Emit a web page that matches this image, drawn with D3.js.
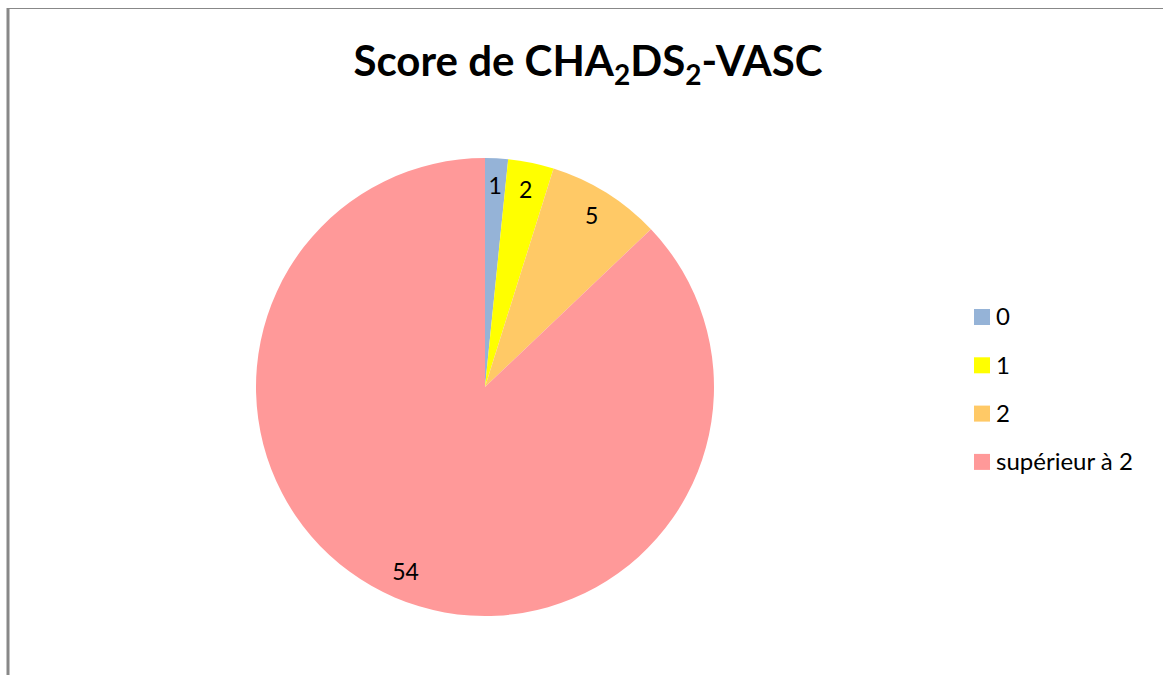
<!DOCTYPE html>
<html>
<head>
<meta charset="utf-8">
<script src="https://cdn.jsdelivr.net/npm/d3@7"></script>
<style>
  body { margin: 0; background: #fff; }
  text { font-family: Lato, "Open Sans", sans-serif; }
</style>
</head>
<body>
<div id="chart-area"></div>
<script>
// Data
var categories = ['0', '1', '2', 'supérieur à 2'];
var values = [1, 2, 5, 54];
var colors = ['#95B3D7', '#FFFF00', '#FFC966', '#FF9999'];

var width = 1163, height = 675;

var svg = d3.select('#chart-area')
    .append('svg')
        .attr('width', width)
        .attr('height', height);

// frame lines (top and left)
svg.append('line')
    .attr('x1', 7).attr('x2', width)
    .attr('y1', 8.5).attr('y2', 8.5)
    .attr('stroke', '#888').attr('stroke-width', 1);
svg.append('line')
    .attr('x1', 8).attr('x2', 8)
    .attr('y1', 8).attr('y2', height)
    .attr('stroke', '#888').attr('stroke-width', 3);

// Title
var title = svg.append('text')
    .attr('x', 588)
    .attr('y', 76)
    .attr('text-anchor', 'middle')
    .attr('font-size', '42px')
    .attr('font-weight', 'bold')
    .attr('fill', '#000');
title.append('tspan').text('Score de CHA');
title.append('tspan').attr('font-size', '28px').attr('dy', 9).text('2');
title.append('tspan').attr('dy', -9).text('DS');
title.append('tspan').attr('font-size', '28px').attr('dy', 9).text('2');
title.append('tspan').attr('dy', -9).text('-VASC');

// Pie
var radius = 229;
var g = svg.append('g')
    .attr('transform', 'translate(485,387)');

var pie = d3.pie().sort(null).value(function(d){ return d; });
var arc = d3.arc().innerRadius(0).outerRadius(radius);
var labelArc = d3.arc().innerRadius(radius * 0.88).outerRadius(radius * 0.88);

var color = d3.scaleOrdinal().domain(categories).range(colors);

var arcs = pie(values);

g.selectAll('path')
    .data(arcs)
    .enter()
    .append('path')
        .attr('d', arc)
        .attr('fill', function(d, i){ return color(categories[i]); });

g.selectAll('text.label')
    .data(arcs)
    .enter()
    .append('text')
        .attr('class', 'label')
        .attr('transform', function(d){ return 'translate(' + labelArc.centroid(d) + ')'; })
        .attr('text-anchor', 'middle')
        .attr('dy', '0.35em')
        .attr('font-size', '23px')
        .attr('fill', '#000')
        .text(function(d){ return d.value; });

// Legend
var legend = svg.append('g')
    .attr('transform', 'translate(974,317)');

var ly = d3.scaleBand()
    .domain(categories)
    .range([0, 48.3 * 4]);

var items = legend.selectAll('g')
    .data(categories)
    .enter()
    .append('g')
        .attr('transform', function(d){ return 'translate(0,' + ly(d) + ')'; });

items.append('rect')
    .attr('x', 0)
    .attr('y', -8)
    .attr('width', 16)
    .attr('height', 16)
    .attr('fill', function(d){ return color(d); });

items.append('text')
    .attr('x', 22)
    .attr('y', 0)
    .attr('dy', '0.35em')
    .attr('font-size', '24px')
    .attr('fill', '#000')
    .text(function(d){ return d; });
</script>
</body>
</html>
